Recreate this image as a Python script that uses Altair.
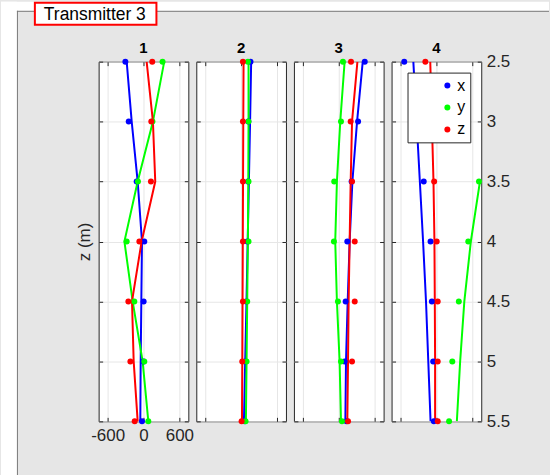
import altair as alt
import pandas as pd

# ---------------- data ----------------
depths = [2.5, 3.0, 3.5, 4.0, 4.5, 5.0, 5.5]
panels = ["1", "2", "3", "4"]
components = ["x", "y", "z"]
colors = ["#0000ff", "#00ff00", "#ff0000"]
x_ticks = [-600, 0, 600]
y_ticks = [2.5, 3.0, 3.5, 4.0, 4.5, 5.0, 5.5]

# panel 1 : measured points and drawn profile lines
p1_x = [-303, -247, -114, 14, 3, 0, -25]
p1_y = [319, 150, -92, -281, -153, 14, 81]
p1_z = [147, 131, 125, -69, -253, -219, -147]
l1_x = [-281, -197, -97, -25, -36, -47, -53]
l1_y = [347, 158, -97, -319, -181, -14, 81]
l1_z = [53, 158, 197, -31, -192, -164, -97]

# panel 2
p2_x = [157, 120, 115, 105, 90, 70, 60]
p2_y = [113, 124, 124, 124, 102, 91, 74]
p2_z = [30, 30, 30, 30, 30, 19, 8]
l2_x = [168, 150, 130, 110, 90, 68, 47]
l2_y = [124, 124, 120, 113, 102, 91, 80]
l2_z = [41, 36, 32, 28, 24, 20, 14]

# panel 3
p3_x = [435, 323, 215, 143, 115, 98, 130]
p3_y = [70, 37, -76, -81, -14, 37, 53]
p3_z = [205, 199, 222, 267, 267, 222, 155]
l3_x = [401, 306, 228, 182, 149, 121, 110]
l3_y = [98, 25, -31, -59, -31, 14, 37]
l3_z = [312, 222, 199, 182, 165, 155, 143]

# panel 4 (y at 2.5 and 3.0 lies outside the plotted range)
p4_x = [-538, -380, -212, -98, -76, -54, -43]
p4_y = [None, None, 712, 533, 375, 266, 212]
p4_z = [-185, -120, -38, 5, 22, 22, 22]
l4_x = [-386, -331, -277, -223, -174, -136, -98]
l4_y = [None, None, 728, 576, 467, 397, 342]
l4_z = [-103, -76, -49, -33, -27, -22, -22]

points = {"1": (p1_x, p1_y, p1_z), "2": (p2_x, p2_y, p2_z),
          "3": (p3_x, p3_y, p3_z), "4": (p4_x, p4_y, p4_z)}
lines = {"1": (l1_x, l1_y, l1_z), "2": (l2_x, l2_y, l2_z),
         "3": (l3_x, l3_y, l3_z), "4": (l4_x, l4_y, l4_z)}


def to_frame(src):
    rows = []
    for p in panels:
        for comp, vals in zip(components, src[p]):
            for d, v in zip(depths, vals):
                if v is not None:
                    rows.append({"panel": p, "comp": comp, "depth": d, "value": v})
    return pd.DataFrame(rows)


pts = to_frame(points)
lns = to_frame(lines)

FONT = "Liberation Sans"
TXT = "#262626"
W, H = 90, 361

legend_def = alt.Legend(
    orient="none", legendX=16, legendY=11, title=None, zindex=5,
    fillColor="white", strokeColor=TXT, padding=5,
    rowPadding=6, symbolOffset=27, labelOffset=2, labelFontSize=16,
    labelFont=FONT, labelColor="black", symbolType="circle", symbolSize=36,
    symbolStrokeWidth=0, cornerRadius=0,
)


def make_panel(k):
    first, last = k == "1", k == "4"
    xs = alt.Scale(domain=[-750, 750], nice=False, zero=False)
    ys = alt.Scale(domain=[2.5, 5.5], reverse=True, nice=False, zero=False)
    cscale = alt.Scale(domain=components, range=colors)

    x_bottom = alt.Axis(orient="bottom", values=x_ticks, grid=True, offset=-4,
                        tickSize=4, labels=first, labelExpr="'' + datum.value",
                        labelPadding=6, title=None)
    y_left = alt.Axis(orient="left", values=y_ticks, grid=True, offset=-4,
                      tickSize=4, labels=False,
                      title="z (m)" if first else None, titlePadding=5,
                      titleFontSize=17, titleFont=FONT, titleColor=TXT,
                      titleFontWeight="normal")
    x_top = alt.Axis(orient="top", values=x_ticks, grid=False, offset=-4,
                     tickSize=4, labels=False, title=None)
    y_right = alt.Axis(orient="right", values=y_ticks, grid=False, offset=-4,
                       tickSize=4, labels=last, labelExpr="'' + datum.value",
                       labelPadding=5, title=None)

    layers = []
    for i, (comp, col) in enumerate(zip(components, colors)):
        sub = lns[(lns.panel == k) & (lns.comp == comp)]
        if i == 0:
            xe = alt.X("value:Q", scale=xs, axis=x_bottom)
            ye = alt.Y("depth:Q", scale=ys, axis=y_left)
        else:
            xe = alt.X("value:Q", scale=xs, axis=None)
            ye = alt.Y("depth:Q", scale=ys, axis=None)
        layers.append(
            alt.Chart(sub).mark_line(strokeWidth=2, clip=True, color=col)
            .encode(x=xe, y=ye, order="depth:Q")
        )

    point_layer = alt.Chart(pts[pts.panel == k]).mark_circle(
        size=36, opacity=1
    ).encode(
        x=alt.X("value:Q", scale=xs, axis=x_top),
        y=alt.Y("depth:Q", scale=ys, axis=y_right),
        color=alt.Color("comp:N", scale=cscale,
                        legend=legend_def if last else None),
    )
    title_layer = alt.Chart(pd.DataFrame({"panel": [k]})).mark_text(
        font=FONT, fontSize=15, fontWeight="bold", color="black",
        align="center", baseline="alphabetic"
    ).encode(x=alt.value(W / 2), y=alt.value(-9), text="panel:N")
    layers += [point_layer, title_layer]

    if first:
        deco = pd.DataFrame({"label": ["Transmitter 3"]})
        base = alt.Chart(deco)
        white_top = base.mark_rect(color="white").encode(
            x=alt.value(-98), x2=alt.value(452), y=alt.value(-60), y2=alt.value(-51))
        white_left = base.mark_rect(color="white").encode(
            x=alt.value(-98), x2=alt.value(-82), y=alt.value(-60), y2=alt.value(415))
        border_top = base.mark_rule(color="#7a7a7a", strokeWidth=1).encode(
            x=alt.value(-82), x2=alt.value(452), y=alt.value(-50.5))
        border_left = base.mark_rule(color="#7a7a7a", strokeWidth=1).encode(
            x=alt.value(-81.5), y=alt.value(-51), y2=alt.value(415))
        box = base.mark_rect(fill="white", stroke="#ff0000", strokeWidth=2).encode(
            x=alt.value(-64), x2=alt.value(58), y=alt.value(-59), y2=alt.value(-37))
        label = base.mark_text(font=FONT, fontSize=17.5, color="black",
                               align="left", baseline="alphabetic").encode(
            x=alt.value(-55), y=alt.value(-42), text="label:N")
        layers = [white_top, white_left, border_top, border_left, box, label] + layers

    return alt.layer(*layers).resolve_axis(
        x="independent", y="independent"
    ).properties(width=W, height=H)


chart = alt.hconcat(
    *[make_panel(k) for k in panels], spacing=8, bounds="flush"
).resolve_scale(color="independent").resolve_legend(
    color="independent"
).properties(
    padding=0, autosize=alt.AutoSizeParams(type="pad")
).configure(
    background="#e6e6e6", font=FONT
).configure_view(
    fill="white", stroke=TXT, strokeWidth=1
).configure_axis(
    domain=False, tickColor=TXT, tickWidth=1, labelColor=TXT,
    labelFont=FONT, labelFontSize=17, gridColor="#e6e6e6", gridWidth=1
).configure_legend(
    strokeWidth=1
)

chart.save("out.html", embed_options={"renderer": "svg", "actions": False})
